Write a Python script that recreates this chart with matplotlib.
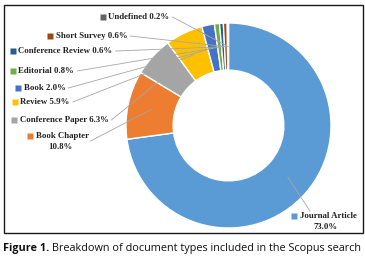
import numpy as np
import matplotlib
matplotlib.use("Agg")
import matplotlib.pyplot as plt
from matplotlib.patches import Rectangle

# data (clockwise from 12 o'clock)
labels = ["Journal Article", "Book Chapter", "Conference Paper", "Review", "Book",
          "Editorial", "Conference Review", "Short Survey", "Undefined"]
shares = [73.0, 10.8, 6.3, 5.9, 2.0, 0.8, 0.6, 0.6, 0.2]
colors = ["#5B9BD5", "#ED7D31", "#A5A5A5", "#FFC000", "#4472C4",
          "#70AD47", "#255E91", "#9E480E", "#636363"]

# label layout in pixels (marker x, y from top), two-line labels wrap
label_pos = [(294, 216), (30, 136), (14, 120), (15, 102), (18, 88),
             (13, 71), (13, 51), (50, 36), (103, 17)]
two_line = {"Journal Article", "Book Chapter"}

W, H = 365, 259
fig = plt.figure(figsize=(W / 100, H / 100), dpi=100)
ax = fig.add_axes([0, 0, 1, 1])

cx, cy, R = 228.5, H - 125.5, 102.5
wedges, _ = ax.pie(shares, colors=colors, startangle=90, counterclock=False,
                   center=(cx, cy), radius=R,
                   wedgeprops=dict(width=R * 0.46, edgecolor="white", linewidth=1.0))
ax.set_xlim(0, W)
ax.set_ylim(0, H)
ax.axis("off")

tfont = dict(family="Liberation Serif", weight="bold", size=6.3, color="#222222")
for w, lab, val, (mx, my), col in zip(wedges, labels, shares, label_pos, colors):
    ang = np.deg2rad((w.theta1 + w.theta2) / 2)
    rm = R * 0.77
    px, py = cx + rm * np.cos(ang), cy + rm * np.sin(ang)
    y = H - my
    ax.plot([mx], [y], marker="s", ms=4.2, color=col, mec="none", zorder=5)
    if lab in two_line:
        t = ax.text(mx + 5.5, y, lab, ha="left", va="center", **tfont)
        fig.canvas.draw()
        bb = t.get_window_extent()
        mid = (bb.x0 + bb.x1) / 2 - 2
        ax.text(mid, y - 11, f"{val:.1f}%", ha="center", va="center", **tfont)
        if lab == "Journal Article":
            lx, ly = mx + 16, y + 5
        else:
            lx, ly = bb.x1 + 2, y - 5
    else:
        t = ax.text(mx + 5.5, y, f"{lab} {val:.1f}%", ha="left", va="center", **tfont)
        fig.canvas.draw()
        bb = t.get_window_extent()
        lx, ly = bb.x1 + 3, y
    ax.plot([lx, px], [ly, py], color="#A6A6A6", lw=0.6, zorder=4)

ax.add_patch(Rectangle((3.5, H - 233), 359, 228, fill=False, ec="#1a1a1a", lw=1.0, zorder=6))

cap_y = 1 - 248 / H
t1 = fig.text(3 / W, cap_y, "Figure 1.", fontsize=7.85, family="Open Sans",
              weight="bold", va="center", ha="left", color="#111111")
fig.canvas.draw()
x1 = t1.get_window_extent().x1
fig.text((x1 + 3) / W, cap_y, "Breakdown of document types included in the Scopus search",
         fontsize=7.85, family="Open Sans", va="center", ha="left", color="#111111")

fig.savefig("out.png", dpi=100)
